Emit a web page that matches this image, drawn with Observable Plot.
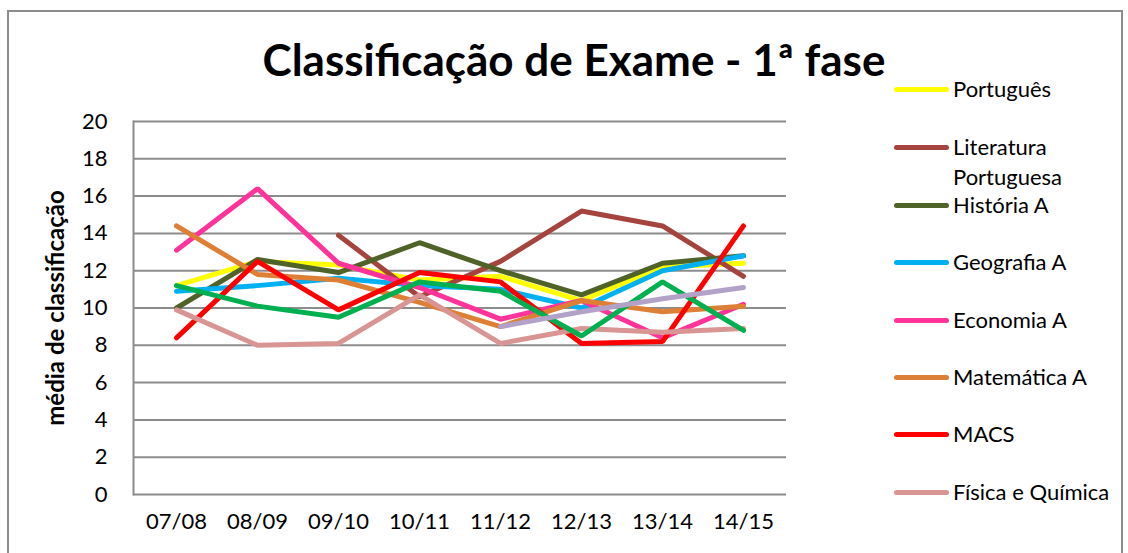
<!DOCTYPE html>
<html>
<head>
<meta charset="utf-8">
<script src="https://cdn.jsdelivr.net/npm/d3@7"></script>
<script src="https://cdn.jsdelivr.net/npm/@observablehq/plot@0.6"></script>
<style>
  html, body { margin: 0; padding: 0; background: #fff; overflow: hidden; }
  #wrap { position: relative; width: 1128px; height: 553px; font-family: Lato, "Open Sans", sans-serif; }
  #border { position: absolute; left: 7px; top: 10px; width: 1116px; height: 600px; border: 2px solid #8c8c8c; box-sizing: border-box; }
  #title { position: absolute; left: 0; width: 1148px; top: 32px; text-align: center; font-weight: bold; font-size: 44px; line-height: 54px; color: #000; }
  #chart { position: absolute; left: 0; top: 0; }
  #legend { position: absolute; left: 894px; top: 0; }
  .item { position: absolute; left: 0; width: 234px; }
  .sw { position: absolute; left: 0; width: 55px; height: 5px; border-radius: 3px; }
  .lbl { position: absolute; left: 59px; width: 172px; font-size: 22px; line-height: 30px; color: #000; }
</style>
</head>
<body>
<div id="wrap">
  <div id="border"></div>
  <div id="chart"></div>
  <div id="title">Classificação de Exame - 1ª fase</div>
  <div id="legend"></div>
</div>
<script>
const anos = ["07/08","08/09","09/10","10/11","11/12","12/13","13/14","14/15"];
const yTicks = [0, 2, 4, 6, 8, 10, 12, 14, 16, 18, 20];

const disciplinas = ["Português","Literatura Portuguesa","História A","Geografia A","Economia A","Matemática A","MACS","Física e Química","Biologia e Geologia","Geometria Descritiva A"];
const cores = ["#FFFF00","#A5443F","#4F6228","#00B0F0","#FF3399","#DE7F36","#FF0000","#D99594","#00B050","#B3A2C7"];
const legendaVisivel = 8;

const portugues  = [11.2, 12.5, 12.3, 11.5, 11.7, 10.4, 12.2, 12.4];
const literatura = [null, null, 13.9, 10.6, 12.5, 15.2, 14.4, 11.7];
const historia   = [10.0, 12.6, 11.9, 13.5, 12.0, 10.7, 12.4, 12.8];
const geografia  = [10.9, 11.2, 11.6, 11.2, 11.0, 10.0, 12.0, 12.8];
const economia   = [13.1, 16.4, 12.4, 11.1, 9.4, 10.4, 8.4, 10.2];
const matematica = [14.4, 11.8, 11.5, 10.3, 9.0, 10.4, 9.8, 10.1];
const macs       = [8.4, 12.5, 9.9, 11.9, 11.4, 8.1, 8.2, 14.4];
const fisica     = [9.9, 8.0, 8.1, 10.7, 8.1, 8.9, 8.7, 8.9];
const biologia   = [11.2, 10.1, 9.5, 11.4, 10.9, 8.5, 11.4, 8.8];
const geometria  = [null, null, null, null, 9.0, 9.8, 10.5, 11.1];

const series = [portugues, literatura, historia, geografia, economia, matematica, macs, fisica, biologia, geometria];

const dados = [];
series.forEach((vals, i) => {
  vals.forEach((v, j) => {
    if (v != null) dados.push({disciplina: disciplinas[i], ano: anos[j], valor: v});
  });
});

const plot = Plot.plot({
  width: 1128,
  height: 553,
  marginLeft: 133,
  marginRight: 342,
  marginTop: 121,
  marginBottom: 59,
  style: {fontFamily: "Lato, 'Open Sans', sans-serif", fontSize: "22px", color: "#000", background: "transparent"},
  x: {type: "point", domain: anos, padding: 0.5},
  y: {domain: [0, 20]},
  color: {domain: disciplinas, range: cores},
  marks: [
    Plot.ruleY(yTicks, {stroke: "#8c8c8c", strokeWidth: 2, strokeOpacity: 1}),
    Plot.frame({anchor: "left", stroke: "#8c8c8c", strokeWidth: 2, strokeOpacity: 1}),
    Plot.axisY(yTicks, {tickSize: 0, tickPadding: 26, fontSize: 22, label: null}),
    Plot.axisY({label: "média de classificação", labelAnchor: "center", labelOffset: 87, labelArrow: "none", fontSize: 24, fontWeight: "bold", tickSize: 0, tickFormat: () => "", ticks: []}),
    Plot.axisX({tickSize: 0, tickPadding: 19, fontSize: 22, label: null}),
    Plot.line(dados, {x: "ano", y: "valor", z: "disciplina", stroke: "disciplina", strokeWidth: 5, strokeLinecap: "round", strokeLinejoin: "miter", curve: "linear"})
  ]
});
document.getElementById("chart").appendChild(plot);

plot.querySelectorAll("g[aria-label='y-axis label']").forEach(el => {
  el.setAttribute("font-weight", "bold");
  el.setAttribute("font-size", "24");
  el.querySelectorAll("text").forEach(t => { t.setAttribute("font-weight", "bold"); t.setAttribute("font-size", "24"); });
});

const legenda = document.getElementById("legend");
const centros = [89, 147, 205, 262, 320, 377, 434, 492];
for (let i = 0; i < legendaVisivel; i++) {
  const it = document.createElement("div");
  it.className = "item";
  it.style.top = (centros[i]) + "px";
  const sw = document.createElement("div");
  sw.className = "sw";
  sw.style.background = cores[i];
  sw.style.top = "-2px";
  const lb = document.createElement("div");
  lb.className = "lbl";
  lb.style.top = "-15px";
  lb.textContent = disciplinas[i];
  it.appendChild(sw);
  it.appendChild(lb);
  legenda.appendChild(it);
}
</script>
</body>
</html>
